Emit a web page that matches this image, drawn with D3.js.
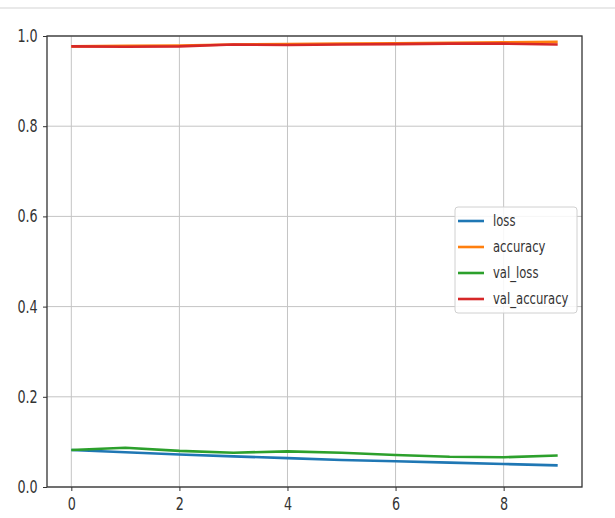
<!DOCTYPE html>
<html>
<head>
<meta charset="utf-8">
<script src="https://cdn.jsdelivr.net/npm/d3@7"></script>
<style>
  body { margin: 0; background: #fff; }
  svg { display: block; }
  text { font-family: "DejaVu Sans", sans-serif; fill: #333; }
</style>
</head>
<body>
<div id="chart"></div>
<script>
// history of a keras fit
const epochs = [0, 1, 2, 3, 4, 5, 6, 7, 8, 9];
const loss = [0.082, 0.077, 0.072, 0.068, 0.064, 0.060, 0.057, 0.054, 0.051, 0.048];
const accuracy = [0.977, 0.978, 0.979, 0.981, 0.982, 0.983, 0.984, 0.985, 0.986, 0.987];
const valLoss = [0.082, 0.087, 0.080, 0.076, 0.079, 0.076, 0.071, 0.067, 0.066, 0.070];
const valAccuracy = [0.977, 0.976, 0.977, 0.981, 0.980, 0.981, 0.982, 0.983, 0.983, 0.981];
const xTicks = [0, 2, 4, 6, 8];
const yTicks = [0, 0.2, 0.4, 0.6, 0.8, 1.0];

const series = [
  { name: "loss", values: loss, color: "#1f77b4" },
  { name: "accuracy", values: accuracy, color: "#ff7f0e" },
  { name: "val_loss", values: valLoss, color: "#2ca02c" },
  { name: "val_accuracy", values: valAccuracy, color: "#d62728" },
];

const width = 615, height = 518;
const squeeze = "scale(0.75,1)";

const svg = d3.select("#chart").append("svg")
  .attr("width", width).attr("height", height);

// thin separator at the top of the screenshot
svg.append("line")
  .attr("x1", 0).attr("x2", width).attr("y1", 8).attr("y2", 8)
  .attr("stroke", "#d4d4d4").attr("stroke-width", 1.2);

const x = d3.scaleLinear().domain([-0.45, 9.45]).range([47, 582]);
const y = d3.scaleLinear().domain([0, 1]).range([487, 36]);

// grid
svg.append("g")
  .selectAll("line")
  .data(xTicks)
  .join("line")
  .attr("x1", d => x(d)).attr("x2", d => x(d))
  .attr("y1", y(0)).attr("y2", y(1))
  .attr("stroke", "#c4c4c4").attr("stroke-width", 1);

svg.append("g")
  .selectAll("line")
  .data(yTicks)
  .join("line")
  .attr("x1", x.range()[0]).attr("x2", x.range()[1])
  .attr("y1", d => y(d)).attr("y2", d => y(d))
  .attr("stroke", "#c4c4c4").attr("stroke-width", 1);

// lines
const line = d3.line()
  .x((d, i) => x(epochs[i]))
  .y(d => y(d));

svg.append("g")
  .selectAll("path")
  .data(series)
  .join("path")
  .attr("d", d => line(d.values))
  .attr("fill", "none")
  .attr("stroke", d => d.color)
  .attr("stroke-width", 2.6)
  .attr("stroke-linejoin", "round");

// frame
svg.append("rect")
  .attr("x", x.range()[0]).attr("y", y(1))
  .attr("width", x.range()[1] - x.range()[0])
  .attr("height", y(0) - y(1))
  .attr("fill", "none")
  .attr("stroke", "#333").attr("stroke-width", 1.3);

// axes
const xAxis = svg.append("g")
  .attr("transform", `translate(0,${y(0)})`)
  .call(d3.axisBottom(x).tickValues(xTicks).tickFormat(d3.format("d")).tickSize(4));

xAxis.select(".domain").remove();
xAxis.selectAll(".tick line").attr("stroke", "#333");
xAxis.selectAll(".tick text")
  .attr("y", 11)
  .attr("transform", squeeze)
  .style("font-size", "17px")
  .style("fill", "#333");

const yAxis = svg.append("g")
  .attr("transform", `translate(${x.range()[0]},0)`)
  .call(d3.axisLeft(y).tickValues(yTicks).tickFormat(d3.format(".1f")).tickSize(4));

yAxis.select(".domain").remove();
yAxis.selectAll(".tick line").attr("stroke", "#333");
yAxis.selectAll(".tick text")
  .attr("x", -12.4)
  .attr("transform", squeeze)
  .style("font-size", "17px")
  .style("fill", "#333");

// legend
const legend = svg.append("g").attr("transform", "translate(455,207)");

legend.append("rect")
  .attr("width", 122).attr("height", 106)
  .attr("rx", 3)
  .attr("fill", "#fff").attr("fill-opacity", 0.85)
  .attr("stroke", "#d0d0d0");

const entry = legend.selectAll("g.entry")
  .data(series)
  .join("g")
  .attr("class", "entry")
  .attr("transform", (d, i) => `translate(0,${14 + i * 26})`);

entry.append("line")
  .attr("x1", 3).attr("x2", 29)
  .attr("stroke", d => d.color)
  .attr("stroke-width", 2.6);

entry.append("g")
  .attr("transform", "translate(38,0)")
  .append("text")
  .attr("transform", squeeze)
  .attr("dy", "0.35em")
  .style("font-size", "15.5px")
  .style("fill", "#333")
  .text(d => d.name);
</script>
</body>
</html>
